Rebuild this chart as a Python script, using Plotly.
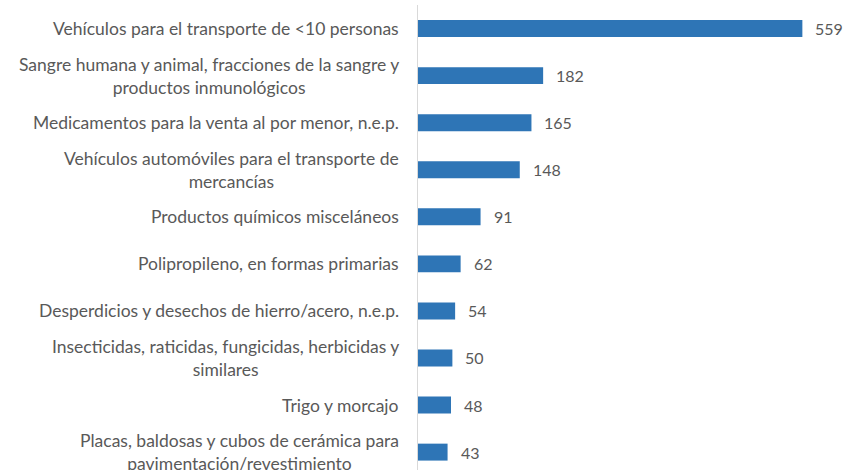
import plotly.graph_objects as go

# categories (top to bottom) and values
categorias = [
    "Vehículos para el transporte de <10 personas",
    "Sangre humana y animal, fracciones de la sangre y<br>productos inmunológicos",
    "Medicamentos para la venta al por menor, n.e.p.",
    "Vehículos automóviles para el transporte de<br>mercancías",
    "Productos químicos misceláneos",
    "Polipropileno, en formas primarias",
    "Desperdicios y desechos de hierro/acero, n.e.p.",
    "Insecticidas, raticidas, fungicidas, herbicidas y<br>similares",
    "Trigo y morcajo",
    "Placas, baldosas y cubos de cerámica para<br>pavimentación/revestimiento",
]
valores = [559, 182, 165, 148, 91, 62, 54, 50, 48, 43]

pos = list(range(len(categorias)))
gris = "#595959"
fuente = "Lato"

fig = go.Figure()
fig.add_trace(go.Bar(
    x=valores,
    y=pos,
    orientation="h",
    width=0.36,
    marker=dict(color="#2E75B6", line=dict(width=0)),
    hoverinfo="skip",
))

anotaciones = []
# category labels, centred lines like Excel
for i, cat in enumerate(categorias):
    anotaciones.append(dict(
        x=0, xref="paper", y=i, yref="y",
        text=cat, showarrow=False, xanchor="right", yanchor="middle",
        align="center", xshift=-17,
        font=dict(family=fuente, size=17.5, color=gris),
    ))
# value labels
for i, v in enumerate(valores):
    anotaciones.append(dict(
        x=v, xref="x", y=i, yref="y",
        text=str(v), showarrow=False, xanchor="left", yanchor="middle",
        xshift=11,
        font=dict(family=fuente, size=16, color=gris),
    ))

fig.update_layout(
    width=845, height=470,
    margin=dict(l=418, r=0, t=5, b=0),
    paper_bgcolor="white", plot_bgcolor="white",
    showlegend=False,
    annotations=anotaciones,
    xaxis=dict(range=[0, 621], visible=False, fixedrange=True),
    yaxis=dict(range=[9.38, -0.5], showticklabels=False, showgrid=False,
               zeroline=False, showline=True, linecolor="#D9D9D9",
               linewidth=1, ticks="", fixedrange=True),
)

# page has a default 8px body margin; drop it so the figure fills the window
fig.write_html("out.html", config={"displayModeBar": False},
               post_script="document.body.style.margin='0';")
